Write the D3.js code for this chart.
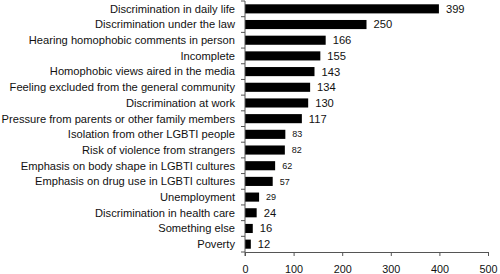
<!DOCTYPE html>
<html>
<head>
    <title>barriers chart</title>
    <script src="https://d3js.org/d3.v7.min.js"></script>
    <style>
        body { margin: 0; background: #fff; }
        text { font-family: "Liberation Sans", Arial, sans-serif; fill: #111; }
    </style>
</head>
<body>
    <svg id="chart" width="500" height="274"></svg>

    <script>
    var categories = [
        "Discrimination in daily life",
        "Discrimination under the law",
        "Hearing homophobic comments in person",
        "Incomplete",
        "Homophobic views aired in the media",
        "Feeling excluded from the general community",
        "Discrimination at work",
        "Pressure from parents or other family members",
        "Isolation from other LGBTI people",
        "Risk of violence from strangers",
        "Emphasis on body shape in LGBTI cultures",
        "Emphasis on drug use in LGBTI cultures",
        "Unemployment",
        "Discrimination in health care",
        "Something else",
        "Poverty"
    ];
    var values = [399, 250, 166, 155, 143, 134, 130, 117, 83, 82, 62, 57, 29, 24, 16, 12];
    // labels that were printed smaller in the original
    var smallLabels = [83, 82, 62, 57, 29];
    var xTicks = [0, 100, 200, 300, 400, 500];

    // (can't use "top" as a global name, window.top is taken)
    var mLeft = 245, mTop = 1, mRight = 488, mBottom = 252;

    var svg = d3.select('#chart');

    var xScale = d3.scaleLinear()
        .domain([0, 500])
        .range([mLeft, mRight]);

    var yScale = d3.scaleBand()
        .domain(categories)
        .range([mTop, mBottom])
        .paddingInner(0.42)
        .paddingOuter(0.21);

    // bars
    svg.selectAll('rect.bar')
        .data(values)
        .enter()
        .append('rect')
        .attr('class', 'bar')
        .attr('x', xScale(0))
        .attr('y', function(d, i) { return yScale(categories[i]); })
        .attr('width', function(d) { return xScale(d) - xScale(0); })
        .attr('height', yScale.bandwidth())
        .attr('fill', '#000');

    // value labels
    svg.selectAll('text.val')
        .data(values)
        .enter()
        .append('text')
        .attr('class', 'val')
        .attr('x', function(d) { return xScale(d) + 7; })
        .attr('y', function(d, i) { return yScale(categories[i]) + yScale.bandwidth() / 2; })
        .attr('dy', '0.35em')
        .style('font-size', function(d) { return smallLabels.indexOf(d) >= 0 ? '9px' : '11.2px'; })
        .text(function(d) { return d; });

    // y axis: ticks between categories
    svg.append('line')
        .attr('x1', mLeft).attr('x2', mLeft)
        .attr('y1', mTop).attr('y2', mBottom + 4)
        .attr('stroke', '#555');

    var step = yScale.step();
    var bounds = d3.range(categories.length + 1).map(function(i) { return mTop + i * step; });
    svg.selectAll('line.ytick')
        .data(bounds)
        .enter()
        .append('line')
        .attr('class', 'ytick')
        .attr('x1', mLeft - 4).attr('x2', mLeft)
        .attr('y1', function(d) { return d; })
        .attr('y2', function(d) { return d; })
        .attr('stroke', '#555');

    svg.selectAll('text.cat')
        .data(categories)
        .enter()
        .append('text')
        .attr('class', 'cat')
        .attr('x', mLeft - 10)
        .attr('y', function(d) { return yScale(d) + yScale.bandwidth() / 2; })
        .attr('dy', '0.35em')
        .attr('text-anchor', 'end')
        .style('font-size', '11.15px')
        .text(function(d) { return d; });

    // x axis
    var xAxis = svg.append('g')
        .attr('transform', 'translate(0,' + mBottom + ')')
        .call(d3.axisBottom(xScale).tickValues(xTicks).tickSize(4).tickPadding(9).tickSizeOuter(0));

    xAxis.select('.domain').attr('stroke', '#555');
    xAxis.selectAll('.tick line').attr('stroke', '#555');
    xAxis.selectAll('.tick text')
        .style('font-size', '10.8px')
        .style('font-family', '"Liberation Sans", Arial, sans-serif')
        .attr('fill', '#111');
    </script>
</body>
</html>
